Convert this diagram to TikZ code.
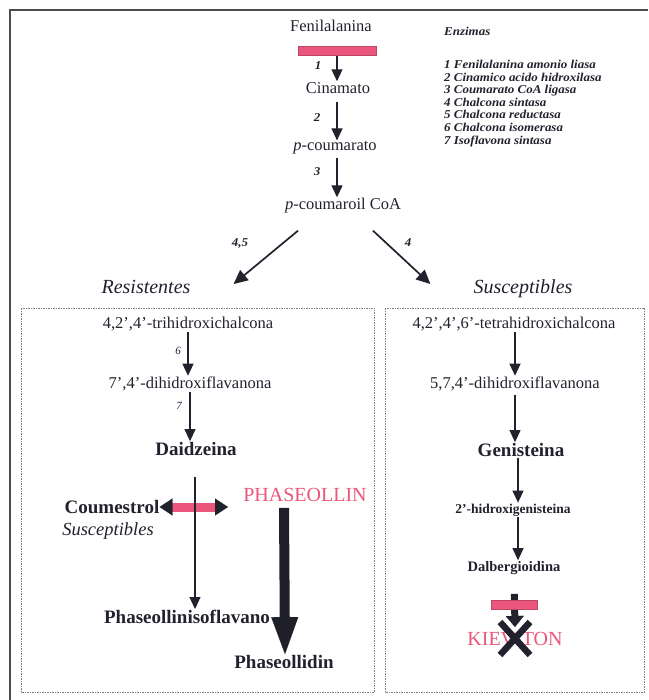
\documentclass[tikz,border=0pt]{standalone}
\usepackage{fontspec}
\setmainfont{Liberation Serif}
\newfontfamily\anchafont[FakeStretch=1.08]{Liberation Serif}
\usetikzlibrary{arrows.meta}

\definecolor{rosa}{RGB}{234,86,124}
\definecolor{tinta}{RGB}{34,34,46}

\begin{document}
\begin{tikzpicture}[x=1pt, y=-1pt,
    txt/.style={text=tinta, inner sep=1pt, font=\fontsize{16.5}{18}\selectfont},
    grande/.style={txt, font=\fontsize{20}{22}\selectfont\itshape},
    negr/.style={txt, font=\fontsize{19}{21}\selectfont\bfseries},
    enz/.style={text=tinta, inner sep=1pt, font=\anchafont\fontsize{12}{12.6}\selectfont\bfseries\itshape},
    num/.style={text=tinta, inner sep=1pt, font=\fontsize{11}{12}\selectfont\itshape},
    flecha/.style={draw=tinta, line width=1.1pt, -{Triangle[length=12pt,width=11pt]}},
    gruesa/.style={draw=tinta, line width=1.7pt, -{Triangle[length=14pt,width=13pt]}},
    caja/.style={draw=gray, line width=.6pt, dash pattern=on 1.5pt off 1pt},
    barra/.style={fill=rosa, draw=rosa!80!black, line width=.4pt, minimum height=9pt, inner sep=0pt},
]

\useasboundingbox (0,0) rectangle (648,700);
\fill[white] (0,0) rectangle (648,700);
\draw[gray!60!black, line width=1.8pt] (10,700) -- (10,10) -- (648,10);

% ruta comun
\node[txt] (fen) at (331,26) {Fenilalanina};
\node[barra, minimum width=78pt] (bar1) at (337,51) {};
\node[txt] (cin) at (338,88) {Cinamato};
\node[txt] (pcm) at (335,148) {\textit{p}-coumarato};
\node[txt] (pcoa) at (343,206) {\textit{p}-coumaroil CoA};

\draw[flecha] (bar1.south) -- (bar1.south |- cin.north);
\draw[flecha, shorten <=7pt] (cin.south -| bar1.south) -- (bar1.south |- pcm.north);
\draw[flecha, shorten <=2pt] (pcm.south -| bar1.south) -- (bar1.south |- pcoa.north);

\node[enz] (n1) at (318,66) {1};
\node[enz] (n2) at (317,118) {2};
\node[enz] (n3) at (317,172) {3};

\node[enz, anchor=west] (enzimas) at (443,31) {Enzimas};
\node[enz, anchor=north west, align=left] (lista) at (443,59)
    {1 Fenilalanina amonio liasa\\2 Cinamico acido hidroxilasa\\3 Coumarato CoA ligasa\\
     4 Chalcona sintasa\\5 Chalcona reductasa\\6 Chalcona isomerasa\\7 Isoflavona sintasa};

\node[grande] (res) at (146,287) {Resistentes};
\node[grande] (sus) at (523,289) {Susceptibles};

\draw[gruesa] ([xshift=-45pt,yshift=-16pt]pcoa.south) -- ([xshift=42pt,yshift=3pt]res.east);
\draw[gruesa] ([xshift=30pt,yshift=-16pt]pcoa.south) -- ([xshift=-42pt,yshift=5pt]sus.west);
\node[enz] (n45) at (240,243) {4,5};
\node[enz] (n4) at (408,243) {4};

% resistentes
\begin{scope}[shift={(21,308)}]
    \draw[caja] (0,0) rectangle (353,384);
    \node[txt] (tri) at (167,16) {4,2',4'-trihidroxichalcona};
    \node[txt] (dih) at (169,76) {7',4'-dihidroxiflavanona};
    \node[negr] (dai) at (175,141) {Daidzeina};
    \node[negr] (cou) at (91,199) {Coumestrol};
    \node[grande, font=\fontsize{18.5}{20}\selectfont\itshape] (susL) at (87,223) {Susceptibles};
    \node[txt, text=rosa, font=\fontsize{20}{22}\selectfont] (phn) at (284,187) {PHASEOLLIN};
    \node[negr] (phi) at (166,309) {Phaseollinisoflavano};
    \node[negr] (pld) at (263,354) {Phaseollidin};

    \draw[flecha] (tri.south -| 167,0) -- (dih.north -| 167,0);
    \draw[flecha] (dih.south -| 169,0) -- (dai.north -| 169,0);
    \node[num] (n6) at (157,43) {6};
    \node[num] (n7) at (158,98) {7};

    \draw[rosa, line width=9pt, {Triangle[length=13pt,width=17pt,color=tinta,line width=.1pt]}-{Triangle[length=13pt,width=17pt,color=tinta,line width=.1pt]}]
        ([xshift=-1pt]cou.east) -- (cou.east -| 207,0);
    \draw[flecha, shorten <=20pt] (dai.south -| 174,0) -- (phi.north -| 174,0);
    \draw[draw=tinta!90!black, line width=10pt, -{Triangle[length=37pt,width=27pt,line width=.1pt]}]
        ([yshift=-5pt]phn.south -| pld.north) -- ([xshift=1pt]pld.north);
\end{scope}

% susceptibles
\begin{scope}[shift={(385,308)}]
    \draw[caja] (0,0) rectangle (259,384);
    \node[txt] (tet) at (129,16) {4,2',4',6'-tetrahidroxichalcona};
    \node[txt] (dfl) at (130,76) {5,7,4'-dihidroxiflavanona};
    \node[negr] (gen) at (136,142) {Genisteina};
    \node[negr, font=\fontsize{13.5}{15}\selectfont\bfseries] (hgen) at (128,202) {2'-hidroxigenisteina};
    \node[negr, font=\fontsize{14.5}{16}\selectfont\bfseries] (dal) at (129,260) {Dalbergioidina};
    \node[txt, text=rosa, font=\fontsize{20}{22}\selectfont] (kie) at (130,331) {KIEVITON};

    \draw[flecha] (tet.south -| 130,0) -- (dfl.north -| 130,0);
    \draw[flecha, shorten <=3pt] (dfl.south -| 130,0) -- (gen.north -| 130,0);
    \draw[flecha] (gen.south -| 133,0) -- (hgen.north -| 133,0);
    \draw[flecha] (hgen.south -| 133,0) -- (dal.north -| 133,0);

    \draw[draw=tinta, line width=7pt, shorten <=18pt, -{Triangle[length=11pt,width=18pt,line width=.1pt]}]
        (dal.south) -- ([yshift=4pt]kie.north);
    \node[barra, minimum width=46pt] (bar2) at (129,297) {};
    \draw[tinta, line width=6.5pt] ([shift={(-15,-17)}]kie.center) -- ([shift={(15,16)}]kie.center);
    \draw[tinta, line width=6.5pt] ([shift={(15,-17)}]kie.center) -- ([shift={(-15,16)}]kie.center);
\end{scope}

\end{tikzpicture}
\end{document}
